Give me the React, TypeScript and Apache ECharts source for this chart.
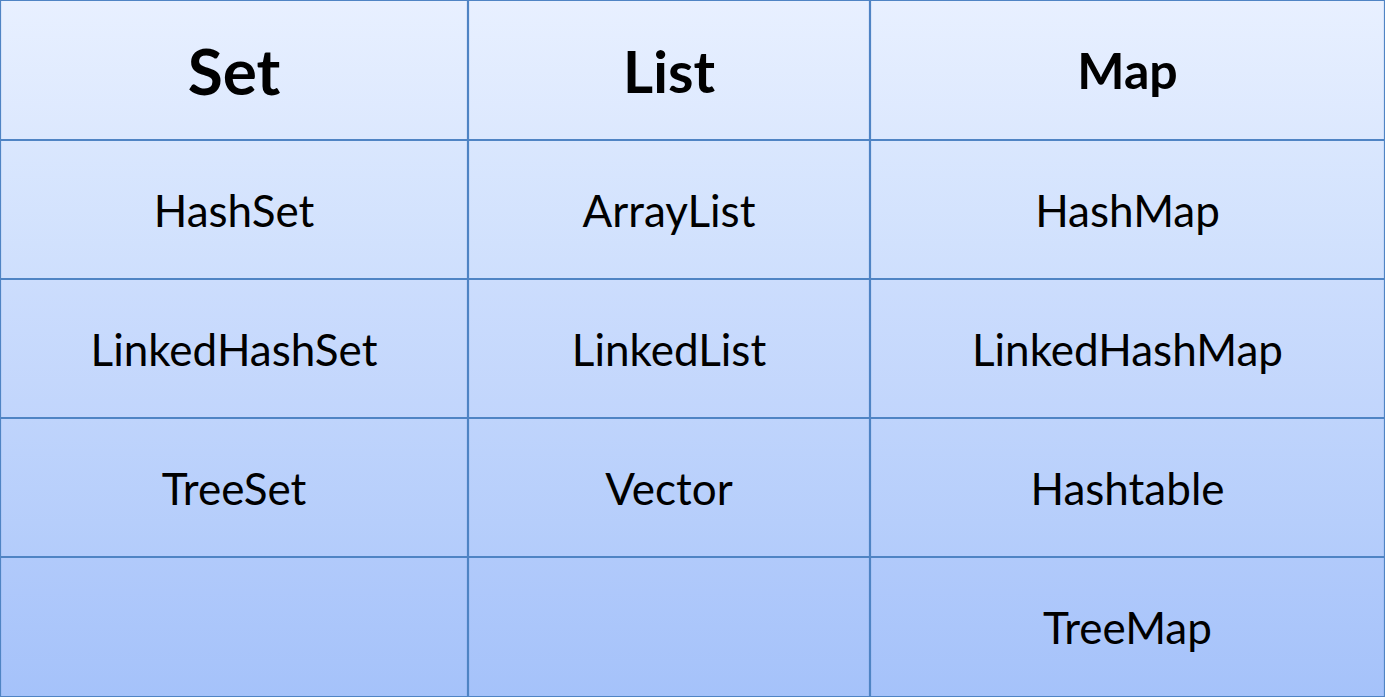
import { useEffect, useRef } from 'react'
import * as echarts from 'echarts'

const columns = ['Set', 'List', 'Map']
const setItems = ['HashSet', 'LinkedHashSet', 'TreeSet', '']
const listItems = ['ArrayList', 'LinkedList', 'Vector', '']
const mapItems = ['HashMap', 'LinkedHashMap', 'Hashtable', 'TreeMap']
// column / row edges in pixel-like units of the table
const colEdges = [0, 468, 870, 1385]
const rowEdges = [0, 140, 279, 418, 557, 697]

const headerSize: Record<string, number> = { Set: 64, List: 58, Map: 50 }

const mix = (a: number[], b: number[], t: number) =>
  `rgb(${a.map((v, i) => Math.round(v + (b[i] - v) * t)).join(',')})`
const TOP = [232, 240, 255]
const BOTTOM = [163, 193, 250]

export default function App() {
  const ref = useRef<HTMLDivElement>(null)
  useEffect(() => {
    document.body.style.margin = '0'
    if (!ref.current) return
    const chart = echarts.init(ref.current, undefined, { renderer: 'svg' })
    const cols = [setItems, listItems, mapItems]
    const data: [number, number, string][] = []
    columns.forEach((c, ci) => {
      data.push([ci, 0, c])
      cols[ci].forEach((t, ri) => data.push([ci, ri + 1, t]))
    })
    const rows = rowEdges.length - 1
    chart.setOption({
      animation: false,
      grid: { left: 0, right: 0, top: 0, bottom: 0 },
      xAxis: { type: 'value', min: 0, max: colEdges[colEdges.length - 1], show: false },
      yAxis: { type: 'value', min: 0, max: rowEdges[rowEdges.length - 1], inverse: true, show: false },
      series: [
        {
          type: 'custom',
          data,
          renderItem: (_p: unknown, api: any) => {
            const c = api.value(0) as number
            const r = api.value(1) as number
            const text = api.value(2) as string
            const p0 = api.coord([colEdges[c], rowEdges[r]])
            const p1 = api.coord([colEdges[c + 1], rowEdges[r + 1]])
            const header = r === 0
            return {
              type: 'group',
              children: [
                {
                  type: 'rect',
                  shape: { x: p0[0] + 0.5, y: p0[1] + 0.5, width: p1[0] - p0[0] - 1, height: p1[1] - p0[1] - 1 },
                  style: {
                    fill: new echarts.graphic.LinearGradient(0, 0, 0, 1, [
                      { offset: 0, color: mix(TOP, BOTTOM, r / rows) },
                      { offset: 1, color: mix(TOP, BOTTOM, (r + 0.85) / rows) },
                    ]),
                    stroke: '#4f84c4',
                    lineWidth: 1.2,
                  },
                },
                {
                  type: 'text',
                  x: (p0[0] + p1[0]) / 2,
                  y: (p0[1] + p1[1]) / 2,
                  style: {
                    text,
                    align: 'center',
                    verticalAlign: 'middle',
                    fill: '#000',
                    fontFamily: 'Lato, "Open Sans", sans-serif',
                    fontSize: header ? headerSize[text] ?? 56 : 44,
                    fontWeight: header ? 'bold' : 'normal',
                  },
                },
              ],
            }
          },
        },
      ],
    })
    return () => chart.dispose()
  }, [])
  return <div ref={ref} style={{ width: 1385, height: 697 }} />
}
